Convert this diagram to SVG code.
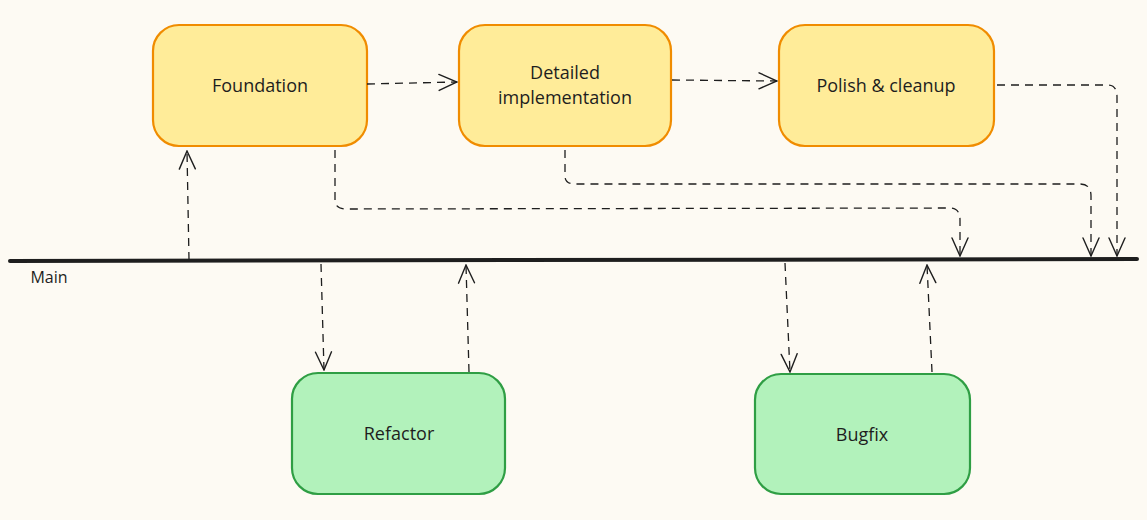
<svg xmlns="http://www.w3.org/2000/svg" width="1147" height="520" viewBox="0 0 1147 520">
<defs>
<marker id="arr" viewBox="0 0 20 20" refX="19" refY="10" markerWidth="20" markerHeight="20" markerUnits="userSpaceOnUse" orient="auto">
<path d="M1,2 L19,10 L1,18" fill="none" stroke="#1e1e1e" stroke-width="1.4" stroke-linecap="round"/>
</marker>
</defs>
<style>
.yel{fill:#ffec99;stroke:#f08c00;stroke-width:2.2}
.grn{fill:#b2f2bb;stroke:#2f9e44;stroke-width:2.2}
.lbl{font-family:"Open Sans","Liberation Sans",sans-serif;font-size:18px;fill:#1e1e1e;text-anchor:middle;dominant-baseline:central}
.c{fill:none;stroke:#1e1e1e;stroke-width:1.3;stroke-dasharray:8 6;marker-end:url(#arr)}
</style>
<rect width="1147" height="520" fill="#fdfaf3"/>
<g id="main">
<line x1="10" y1="261" x2="1137" y2="259" stroke="#1e1e1e" stroke-width="4" stroke-linecap="round"/>
<text x="49" y="277" class="lbl" style="font-size:16px">Main</text>
</g>
<g id="foundation">
<rect x="153" y="25" width="214" height="121" rx="26" class="yel"/>
<text x="260" y="85" class="lbl">Foundation</text>
</g>
<g id="detailed">
<rect x="459" y="25" width="212" height="121" rx="26" class="yel"/>
<text x="565" y="72" class="lbl">Detailed</text>
<text x="565" y="97" class="lbl">implementation</text>
</g>
<g id="polish">
<rect x="779" y="25" width="215" height="121" rx="26" class="yel"/>
<text x="886" y="85" class="lbl">Polish &amp; cleanup</text>
</g>
<g id="refactor">
<rect x="292" y="373" width="213" height="121" rx="26" class="grn"/>
<text x="399" y="433" class="lbl">Refactor</text>
</g>
<g id="bugfix">
<rect x="755" y="374" width="215" height="120" rx="26" class="grn"/>
<text x="862" y="434" class="lbl">Bugfix</text>
</g>
<g id="connectors">
<path class="c" d="M367,84 L457,82"/>
<path class="c" d="M672,80 L777,81"/>
<path class="c" d="M997,85 L1108,85 Q1117,85 1117,97 L1117,256"/>
<path class="c" d="M565,150 L565,176 Q565,184 575,184 L1080,184 Q1091,184 1091,196 L1091,256"/>
<path class="c" d="M335,150 L335,200 Q335,209 346,209 L950,208 Q960,208 960,220 L960,256"/>
<path class="c" d="M189,260 L187,151"/>
<path class="c" d="M321,264 L324,370"/>
<path class="c" d="M469,372 L466,265"/>
<path class="c" d="M785,263 L790,372"/>
<path class="c" d="M932,372 L927,265"/>
</g>
</svg>
